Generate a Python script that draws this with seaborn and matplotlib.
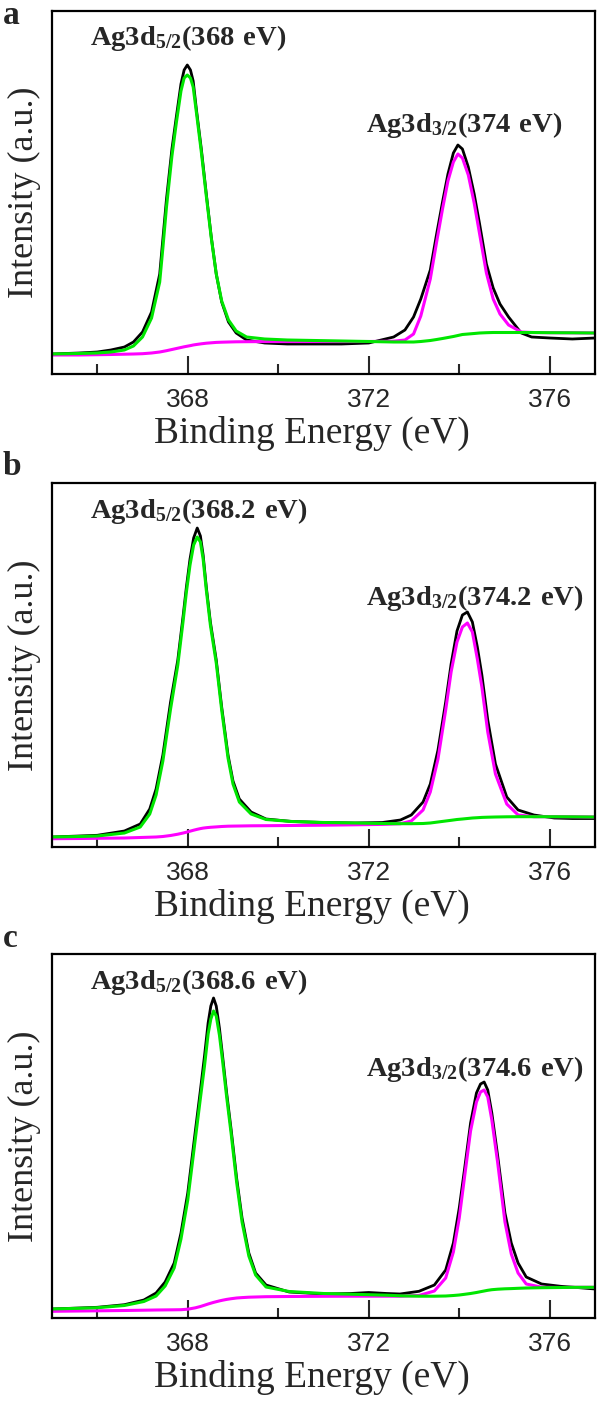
import numpy as np
import pandas as pd
import matplotlib
matplotlib.use("Agg")
import matplotlib.pyplot as plt
import seaborn as sns
from matplotlib.ticker import MultipleLocator

# ── Data (intensity in a.u.) ──────────────────────────────────────────────────
# panel a
E_a = [365.0, 365.6, 366.0, 366.3, 366.6, 366.8, 367.0, 367.2, 367.38, 367.45,
       367.53, 367.65, 367.75, 367.85, 367.92, 367.99, 368.06, 368.12, 368.19, 368.3,
       368.41, 368.52, 368.63, 368.75, 368.9, 369.07, 369.3, 369.7, 370.2, 370.8,
       371.4, 372.0, 372.55, 372.8, 372.99, 373.15, 373.36, 373.5, 373.63, 373.75,
       373.87, 373.97, 374.07, 374.2, 374.33, 374.45, 374.6, 374.75, 374.9, 375.09,
       375.37, 375.6, 376.0, 376.5, 377.0]
raw_a = [20, 21, 22, 24, 27, 32, 42, 62, 100, 135,
         175, 225, 258, 290, 304, 309, 304, 293, 265, 225,
         180, 137, 100, 72, 52, 41, 34, 31, 30, 30,
         30, 31, 37, 44, 57, 75, 104, 140, 172, 200,
         221, 229, 225, 207, 180, 150, 110, 86, 70, 57,
         41, 37, 36, 35, 36]
fit52_a = [20, 20.5, 21, 22, 24, 28, 37, 56, 92, 126,
           167, 218, 252, 283, 296, 299, 296, 287, 262, 222,
           178, 136, 100, 73, 54, 43, 37, 35, 34, 33.5,
           33, 32.5, 32, 32, 32, 32.5, 33.5, 34.5, 35.5, 36.5,
           37.5, 38.5, 39.5, 40, 40.5, 41, 41.3, 41.5, 41.5, 41.5,
           41.5, 41.5, 41.3, 41.2, 41]
fit32_a = [19, 19, 19.3, 19.5, 19.8, 20, 20.3, 21, 22, 22.6,
           23.3, 24.5, 25.5, 26.5, 27.2, 27.8, 28.4, 29, 29.5, 30.2,
           30.8, 31.2, 31.6, 31.8, 32, 32.2, 32.3, 32.4, 32.4, 32.4,
           32.4, 32.5, 32.8, 34, 40, 58, 95, 132, 165, 193,
           212, 220, 216, 199, 171, 140, 101, 75, 60, 49,
           42, 41.5, 41.3, 41.2, 41]

# panel b
E_b = [365.0, 365.6, 366.0, 366.6, 366.95, 367.16, 367.3, 367.45, 367.62, 367.78,
       367.9, 367.97, 368.05, 368.13, 368.21, 368.28, 368.34, 368.41, 368.5, 368.63,
       368.75, 368.89, 369.0, 369.14, 369.4, 369.73, 370.3, 371.0, 371.7, 372.3,
       372.7, 372.94, 373.2, 373.36, 373.53, 373.7, 373.82, 373.95, 374.07, 374.18,
       374.29, 374.4, 374.5, 374.63, 374.8, 375.05, 375.3, 375.65, 376.1, 376.5,
       377.0]
raw_b = [10, 11, 11.7, 16, 23, 38, 58, 92, 145, 187,
         232, 260, 288, 309, 319, 311, 292, 260, 225, 187,
         140, 92, 66, 48, 35, 28, 25.5, 24.5, 24, 24.5,
         27, 32, 45, 63, 97, 145, 183, 216, 232, 235,
         225, 200, 172, 127, 83, 50, 37, 32, 29, 28.5,
         28.5]
fit52_b = [10, 10.5, 11, 14, 20, 33, 52, 86, 138, 182,
           227, 255, 282, 302, 310, 305, 288, 257, 222, 184,
           137, 89, 63, 45, 33, 27.5, 25.5, 24.5, 24, 23.5,
           23.3, 23.3, 23.5, 24, 25, 26, 26.7, 27.5, 28, 28.5,
           29, 29.3, 29.6, 29.8, 30, 30.2, 30.3, 30.3, 30.3, 30.2,
           30]
fit32_b = [8.3, 8.5, 8.7, 9, 9.5, 9.8, 10, 10.5, 11.5, 12.8,
           14, 14.8, 15.8, 16.8, 17.7, 18.4, 18.9, 19.3, 19.7, 20.1,
           20.5, 20.8, 20.9, 21, 21.2, 21.3, 21.5, 21.8, 22.2, 22.6,
           23.3, 26, 37, 55, 88, 137, 175, 205, 220, 224,
           215, 188, 160, 115, 73, 43, 32, 30.3, 30.3, 30.2,
           30]

# panel c
E_c = [365.0, 365.6, 366.0, 366.6, 367.03, 367.3, 367.5, 367.7, 367.85, 368.0,
       368.17, 368.28, 368.37, 368.45, 368.51, 368.57, 368.63, 368.7, 368.77, 368.86,
       368.96, 369.08, 369.2, 369.35, 369.5, 369.73, 370.24, 371.0, 371.6, 372.0,
       372.4, 372.69, 373.11, 373.45, 373.7, 373.87, 374.0, 374.12, 374.25, 374.38,
       374.47, 374.55, 374.63, 374.72, 374.85, 375.01, 375.15, 375.3, 375.48, 375.82,
       376.24, 376.6, 377.0]
raw_c = [9, 10, 10.7, 13.3, 18, 25, 36, 55, 85, 125,
         188, 228, 262, 295, 312, 320, 312, 290, 262, 225,
         188, 140, 100, 65, 45, 33, 26, 24, 24.5, 25.5,
         24.5, 24, 26.7, 33, 48, 75, 110, 150, 195, 225,
         234, 236, 228, 205, 162, 105, 75, 55, 41, 34,
         31.7, 30.5, 29]
fit52_c = [9, 9.7, 10.3, 12.5, 16.5, 22, 32, 50, 79, 118,
           180, 220, 252, 284, 299, 307, 302, 283, 257, 221,
           184, 136, 96, 62, 43, 31, 26.5, 24.5, 23.8, 23.3,
           22.8, 22.2, 21.8, 21.8, 22, 22.5, 23, 23.7, 24.5, 25.5,
           26.3, 27, 27.7, 28.3, 28.8, 29.2, 29.4, 29.7, 30, 30.3,
           30.5, 30.7, 30.7]
fit32_c = [6.7, 7, 7.2, 7.5, 7.8, 8, 8.1, 8.2, 8.3, 8.8,
           10.2, 11.5, 12.8, 14, 14.8, 15.6, 16.3, 17.1, 17.8, 18.6,
           19.3, 20, 20.4, 20.8, 21, 21.3, 21.5, 21.7, 21.8, 21.8,
           21.8, 21.8, 22.5, 27, 40, 66, 100, 142, 187, 216,
           226, 228, 221, 198, 155, 96, 64, 45, 34, 30.8,
           30.5, 30.7, 30.7]

PANELS = ["a", "b", "c"]
PEAK52 = ["368", "368.2", "368.6"]
PEAK32 = ["374", "374.2", "374.6"]
XTICKS = [368, 372, 376]

# ── Style ─────────────────────────────────────────────────────────────────────
sns.set_theme(style="ticks")
plt.rcParams["font.family"] = ["Liberation Serif", "DejaVu Serif"]
plt.rcParams["mathtext.fontset"] = "custom"
plt.rcParams["mathtext.bf"] = "Liberation Serif:bold"
plt.rcParams["mathtext.rm"] = "Liberation Serif"

fig = plt.figure(figsize=(6, 14.01), dpi=100)
boxes = [(11, 374), (483, 847), (954, 1318)]   # frame top/bottom in px
label_y = [24, 475, 947]

data = [(E_a, raw_a, fit52_a, fit32_a),
        (E_b, raw_b, fit52_b, fit32_b),
        (E_c, raw_c, fit52_c, fit32_c)]

for i, (E, raw, f52, f32) in enumerate(data):
    top, bot = boxes[i]
    ax = fig.add_axes([52 / 600, 1 - bot / 1401, 543 / 600, (bot - top) / 1401])
    df = pd.DataFrame({"E": E, "raw": raw, "f52": f52, "f32": f32})

    sns.lineplot(data=df, x="E", y="raw", ax=ax, color="black", lw=2.0, sort=False)
    sns.lineplot(data=df, x="E", y="f32", ax=ax, color="#ff00ff", lw=2.2, sort=False)
    sns.lineplot(data=df, x="E", y="f52", ax=ax, color="#00e600", lw=2.2, sort=False)

    ax.set_xlim(365, 377)
    ax.set_ylim(0, bot - top)
    ax.set_xticks(XTICKS)
    ax.xaxis.set_minor_locator(MultipleLocator(2))
    ax.set_yticks([])
    ax.tick_params(axis="x", which="major", direction="in", length=13, width=1.5,
                   pad=10, labelsize=19, labelfontfamily="Liberation Sans")
    ax.tick_params(axis="x", which="minor", direction="in", length=7.5, width=1.5)
    for sp in ax.spines.values():
        sp.set_linewidth(1.6)
        sp.set_color("black")

    ax.set_xlabel("Binding Energy (eV)", fontsize=27)
    ax.xaxis.set_label_coords(0.478, -0.116)
    ax.set_ylabel("Intensity (a.u.)", fontsize=26, labelpad=8)

    ax.text(365.83, 329, r"$\mathbf{Ag3d_{5/2}(" + PEAK52[i] + r"\ eV)}$",
            fontsize=20.5, va="baseline", ha="left")
    ax.text(371.93, 242, r"$\mathbf{Ag3d_{3/2}(" + PEAK32[i] + r"\ eV)}$",
            fontsize=20.5, va="baseline", ha="left")

    fig.text(3 / 600, 1 - label_y[i] / 1401, PANELS[i], fontsize=24,
             fontweight="bold", va="baseline", ha="left")

fig.savefig("out.png", dpi=100)
